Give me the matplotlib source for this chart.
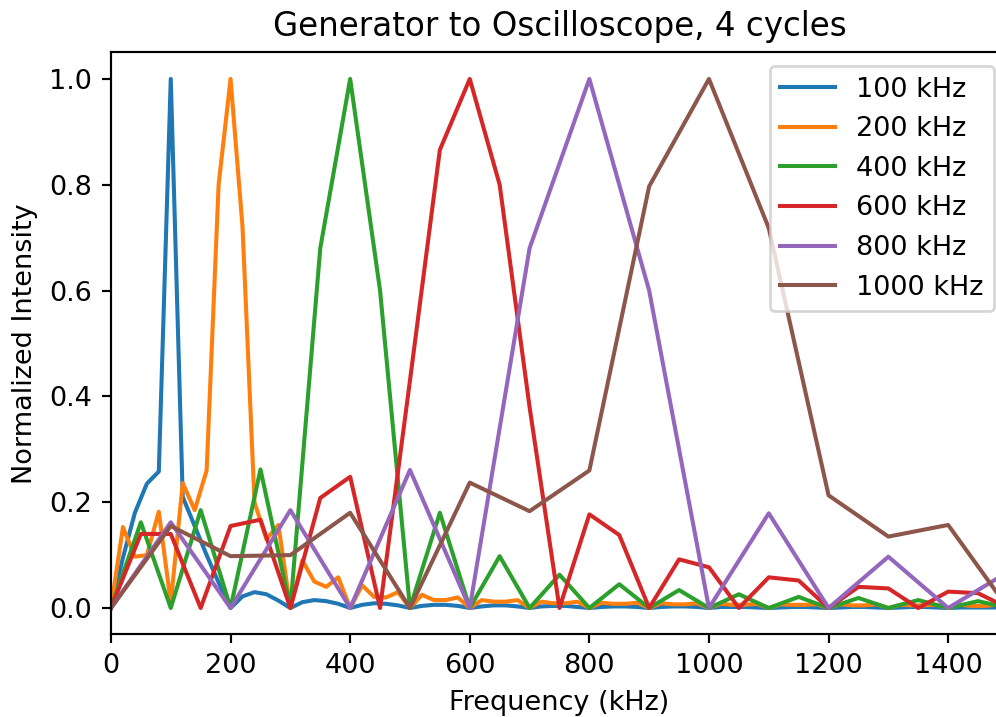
import numpy as np
import matplotlib
matplotlib.use('Agg')
import matplotlib.pyplot as plt

# frequency bins (kHz) for each drive frequency
freq_fine = np.arange(0, 1501, 20)     # 100 and 200 kHz runs
freq_mid = np.arange(0, 1501, 50)      # 400 and 600 kHz runs
freq_coarse = np.arange(0, 1501, 100)  # 800 and 1000 kHz runs

spec_100 = [0.0, 0.095, 0.18, 0.235, 0.258, 1.0, 0.21, 0.155, 0.1, 0.048,
            0.0, 0.022, 0.03, 0.026, 0.014,
            0.0, 0.011, 0.015, 0.013, 0.008,
            0.0, 0.006, 0.009, 0.008, 0.005,
            0.0, 0.004, 0.006, 0.006, 0.004,
            0.0, 0.003, 0.005, 0.005, 0.003,
            0.0, 0.003, 0.004, 0.004, 0.002,
            0.0, 0.002, 0.003, 0.003, 0.002,
            0.0, 0.002, 0.003, 0.003, 0.002,
            0.0, 0.002, 0.002, 0.002, 0.001,
            0.0, 0.001, 0.002, 0.002, 0.001,
            0.0, 0.001, 0.002, 0.002, 0.001,
            0.0, 0.001, 0.002, 0.002, 0.001,
            0.0, 0.001, 0.001, 0.001, 0.001,
            0.0]

spec_200 = [0.0, 0.153, 0.097, 0.1, 0.182, 0.01, 0.236, 0.185, 0.26, 0.8,
            1.0, 0.72, 0.2, 0.13, 0.157,
            0.0, 0.09, 0.05, 0.04, 0.058,
            0.0, 0.043, 0.021, 0.02, 0.03,
            0.0, 0.025, 0.015, 0.015, 0.02,
            0.0, 0.015, 0.012, 0.012, 0.015,
            0.0, 0.012, 0.009, 0.009, 0.012,
            0.0, 0.01, 0.008, 0.008, 0.01,
            0.0, 0.009, 0.007, 0.007, 0.009,
            0.0, 0.008, 0.006, 0.006, 0.008,
            0.0, 0.007, 0.006, 0.006, 0.007,
            0.0, 0.007, 0.005, 0.005, 0.007,
            0.0, 0.006, 0.005, 0.005, 0.006,
            0.0, 0.006, 0.004, 0.004, 0.006,
            0.0]

spec_400 = [0.0, 0.162, 0.0, 0.185, 0.0, 0.262, 0.0, 0.68, 1.0, 0.6,
            0.0, 0.18, 0.0, 0.098, 0.0, 0.063, 0.0, 0.045, 0.0, 0.034,
            0.0, 0.026, 0.0, 0.021, 0.0, 0.019, 0.0, 0.015, 0.0, 0.013,
            0.0]

spec_600 = [0.0, 0.14, 0.14, 0.0, 0.155, 0.167, 0.0, 0.208, 0.248, 0.0,
            0.43, 0.866, 1.0, 0.8, 0.38, 0.0, 0.177, 0.138, 0.0, 0.092,
            0.077, 0.0, 0.058, 0.052, 0.0, 0.04, 0.037, 0.0, 0.031, 0.028,
            0.0]

spec_800 = [0.0, 0.162, 0.0, 0.185, 0.0, 0.261, 0.0, 0.68, 1.0, 0.6,
            0.0, 0.179, 0.0, 0.097, 0.0, 0.068]

spec_1000 = [0.0, 0.155, 0.098, 0.1, 0.18, 0.0, 0.237, 0.183, 0.26, 0.797,
             1.0, 0.718, 0.213, 0.135, 0.157, 0.0]

DPI = 195
fig = plt.figure(figsize=(997 / DPI, 717 / DPI), dpi=DPI)
ax = fig.add_axes([0.1113, 0.1151, 0.8997, 0.8117])

ax.plot(freq_fine, spec_100, label='100 kHz')
ax.plot(freq_fine, spec_200, label='200 kHz')
ax.plot(freq_mid, spec_400, label='400 kHz')
ax.plot(freq_mid, spec_600, label='600 kHz')
ax.plot(freq_coarse, spec_800, label='800 kHz')
ax.plot(freq_coarse, spec_1000, label='1000 kHz')

ax.set_xlim(0, 1500)
ax.set_title('Generator to Oscilloscope, 4 cycles')
ax.set_xlabel('Frequency (kHz)')
ax.set_ylabel('Normalized Intensity')
ax.legend(loc='upper right')

fig.savefig('out.png', dpi=DPI)
